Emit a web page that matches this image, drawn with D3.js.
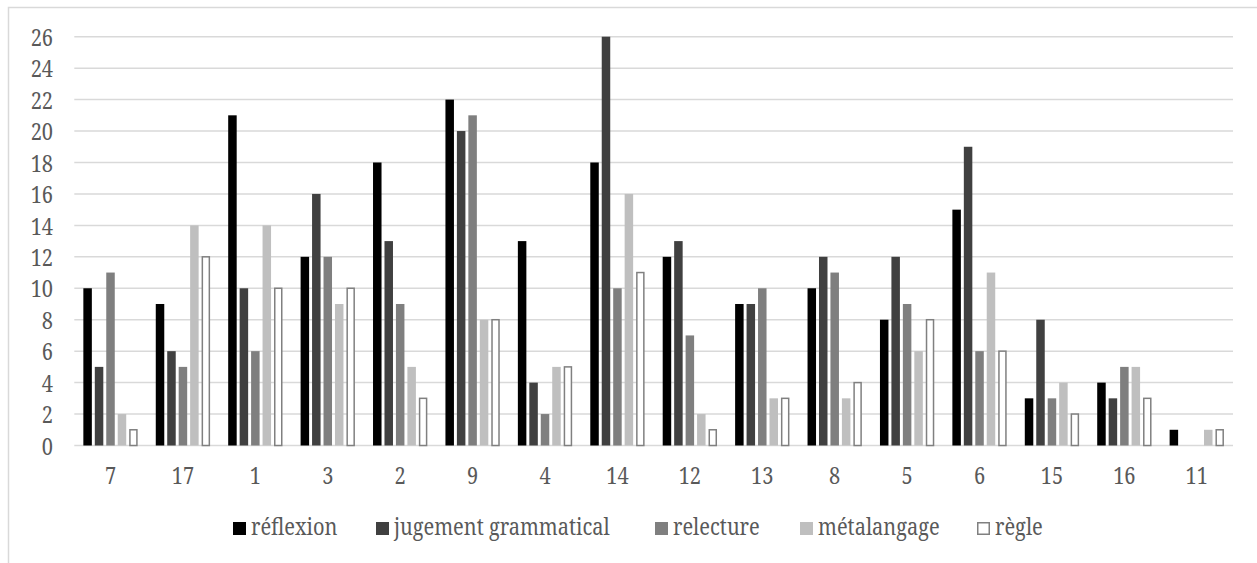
<!DOCTYPE html>
<html>
<head>
<meta charset="utf-8">
<script src="https://cdn.jsdelivr.net/npm/d3@7"></script>
<style>
  html, body { margin: 0; padding: 0; background: #fff; }
  svg { display: block; }
</style>
</head>
<body>
<svg id="chart" width="1257" height="563"></svg>
<script>
// Categories (in display order) and series
const categories = ["7", "17", "1", "3", "2", "9", "4", "14", "12", "13", "8", "5", "6", "15", "16", "11"];
const seriesNames = ["réflexion", "jugement grammatical", "relecture", "métalangage", "règle"];

const reflexion   = [10,  9, 21, 12, 18, 22, 13, 18, 12,  9, 10,  8, 15, 3, 4, 1];
const jugement    = [ 5,  6, 10, 16, 13, 20,  4, 26, 13,  9, 12, 12, 19, 8, 3, 0];
const relecture   = [11,  5,  6, 12,  9, 21,  2, 10,  7, 10, 11,  9,  6, 3, 5, 0];
const metalangage = [ 2, 14, 14,  9,  5,  8,  5, 16,  2,  3,  3,  6, 11, 4, 5, 1];
const regle       = [ 1, 12, 10, 10,  3,  8,  5, 11,  1,  3,  4,  8,  6, 2, 3, 1];

const yTicks = [0, 2, 4, 6, 8, 10, 12, 14, 16, 18, 20, 22, 24, 26];

const seriesValues = [reflexion, jugement, relecture, metalangage, regle];
const fills   = ["#000000", "#404040", "#7f7f7f", "#bfbfbf", "#ffffff"];
const strokes = ["none", "none", "none", "none", "#808080"];

const svg = d3.select("#chart");
const textColor = "#595959";
const gridColor = "#d9d9d9";
const fontFamily = "Noto Serif";
const fontSize = 24;
const squeeze = "scale(0.834,1)";   // narrow the serif face horizontally

// outer frame (only top and left edges fall inside the canvas)
svg.append("rect")
  .attr("x", 8.5).attr("y", 7.5)
  .attr("width", 1300).attr("height", 600)
  .attr("fill", "none").attr("stroke", gridColor).attr("stroke-width", 1.5);

const plot = { left: 74.3, right: 1233, top: 36.7, bottom: 445.5 };

const x0 = d3.scaleBand().domain(categories).range([plot.left, plot.right]).paddingInner(0).paddingOuter(0);
const x1 = d3.scaleBand().domain(d3.range(seriesNames.length))
  .range([0, x0.bandwidth()]).paddingInner(0.258).paddingOuter(0.79);
const y = d3.scaleLinear().domain([0, 26]).range([plot.bottom, plot.top]);

// horizontal grid lines
svg.append("g")
  .selectAll("line").data(yTicks).join("line")
  .attr("x1", plot.left).attr("x2", plot.right)
  .attr("y1", d => y(d)).attr("y2", d => y(d))
  .attr("stroke", gridColor).attr("stroke-width", 1.5);

// y axis labels
const yAxis = d3.axisLeft(y).tickValues(yTicks).tickSize(0).tickPadding(0);
const gy = svg.append("g").attr("transform", "translate(53,0)").call(yAxis)
  .attr("font-family", fontFamily).attr("font-size", fontSize);
gy.select(".domain").remove();
gy.selectAll("text")
  .attr("fill", textColor)
  .attr("x", 0).attr("dy", "0.36em")
  .attr("transform", squeeze);

// x axis labels
const xAxis = d3.axisBottom(x0).tickSize(0).tickPadding(0);
const gx = svg.append("g").attr("transform", `translate(0,${plot.bottom})`).call(xAxis)
  .attr("font-family", fontFamily).attr("font-size", fontSize);
gx.select(".domain").remove();
gx.selectAll("text")
  .attr("fill", textColor)
  .attr("y", 38.5).attr("dy", 0)
  .attr("transform", squeeze);

// bars
const groups = svg.append("g").selectAll("g").data(categories).join("g")
  .attr("transform", d => `translate(${x0(d)},0)`);

groups.selectAll("rect")
  .data((c, ci) => seriesValues.map((vals, si) => ({ si, v: vals[ci] })).filter(d => d.v > 0))
  .join("rect")
  .attr("x", d => x1(d.si) + (strokes[d.si] !== "none" ? 0.75 : 0))
  .attr("width", d => x1.bandwidth() - (strokes[d.si] !== "none" ? 1.5 : 0))
  .attr("y", d => y(d.v))
  .attr("height", d => y(0) - y(d.v))
  .attr("fill", d => fills[d.si])
  .attr("stroke", d => strokes[d.si])
  .attr("stroke-width", 1.5);

// legend
const legendX = [233, 376, 655, 800, 977];
const legend = svg.append("g").selectAll("g").data(seriesNames).join("g")
  .attr("transform", (d, i) => `translate(${legendX[i]},535)`);
legend.append("rect")
  .attr("x", (d, i) => i === 4 ? 0.75 : 0)
  .attr("y", (d, i) => i === 4 ? -12.25 : -13)
  .attr("width", (d, i) => i === 4 ? 11.5 : 13)
  .attr("height", (d, i) => i === 4 ? 11.5 : 13)
  .attr("fill", (d, i) => fills[i])
  .attr("stroke", (d, i) => strokes[i])
  .attr("stroke-width", 1.5);
legend.append("text")
  .attr("transform", "translate(18,0) " + squeeze)
  .attr("fill", textColor)
  .attr("font-family", fontFamily).attr("font-size", fontSize)
  .text(d => d);
</script>
</body>
</html>
